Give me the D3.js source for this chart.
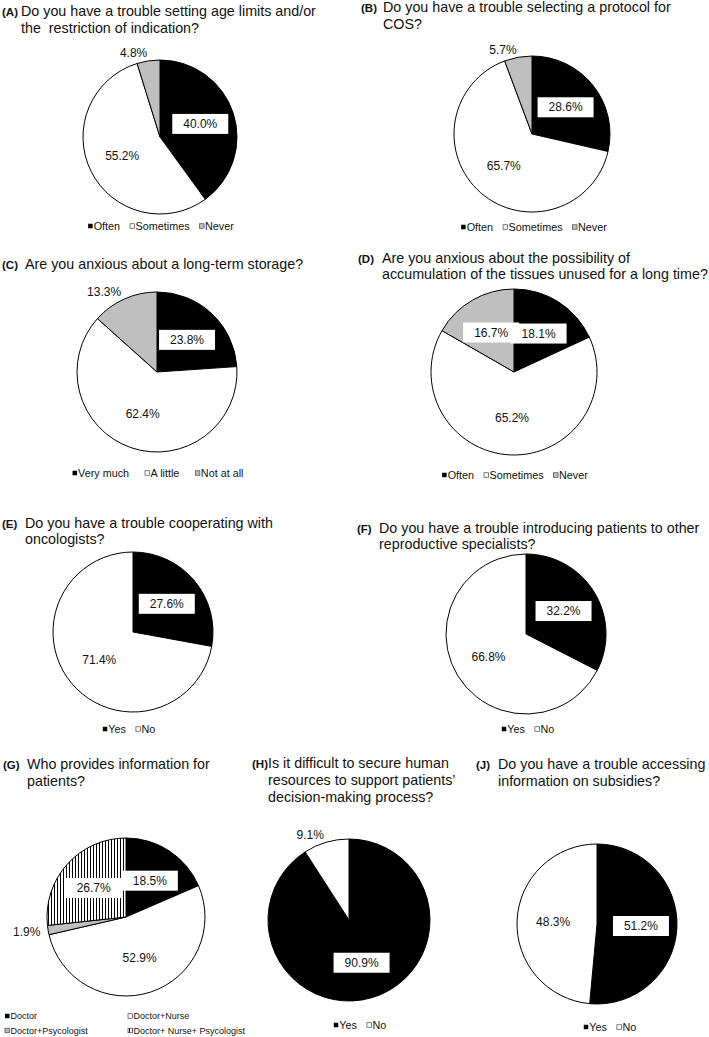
<!DOCTYPE html>
<html>
<head>
<meta charset="utf-8">
<script src="https://cdn.jsdelivr.net/npm/d3@7"></script>
<style>
  body { margin: 0; background: #fff; }
  text { font-family: Arial, "Liberation Sans", sans-serif; fill: #111; }
</style>
</head>
<body>
<div id="chart"></div>
<script>
// Data
var panelIds = ["A", "B", "C", "D", "E", "F", "G", "H", "J"];

var titles = [
  ["Do you have a trouble setting age limits and/or", "the  restriction of indication?"],
  ["Do you have a trouble selecting a protocol for", "COS?"],
  ["Are you anxious about a long-term storage?"],
  ["Are you anxious about the possibility of", "accumulation of the tissues unused for a long time?"],
  ["Do you have a trouble cooperating with", "oncologists?"],
  ["Do you have a trouble introducing patients to other", "reproductive specialists?"],
  ["Who provides information for", "patients?"],
  ["Is it difficult to secure human", "resources to support patients\u2019", "decision-making process?"],
  ["Do you have a trouble accessing", "information on subsidies?"]
];

var freqCats = ["Often", "Sometimes", "Never"];
var anxCats = ["Very much", "A little", "Not at all"];
var ynCats = ["Yes", "No"];
var whoCats = ["Doctor", "Doctor+Nurse", "Doctor+Psycologist", "Doctor+ Nurse+ Psycologist"];

var categories = [freqCats, freqCats, anxCats, freqCats, ynCats, ynCats, whoCats, ynCats, ynCats];

var values = [
  [40.0, 55.2, 4.8],
  [28.6, 65.7, 5.7],
  [23.8, 62.4, 13.3],
  [18.1, 65.2, 16.7],
  [27.6, 71.4],
  [32.2, 66.8],
  [18.5, 52.9, 1.9, 26.7],
  [90.9, 9.1],
  [51.2, 48.3]
];

// Layout of each panel (position of pie, title, legend)
var layout = [
  {cx: 160, cy: 137, r: 77, lx: 2,   tx: 21,  ty: 16,  lh: 16.5, legX: 161, legY: 226, out: [2]},
  {cx: 532, cy: 134, r: 78, lx: 361, tx: 383, ty: 12,  lh: 17,   legX: 534, legY: 227, out: [2]},
  {cx: 157, cy: 372, r: 80, lx: 2,   tx: 25,  ty: 269, lh: 16.5, legX: 158, legY: 473, out: [2], gap: 16},
  {cx: 514, cy: 372, r: 83, lx: 358, tx: 382, ty: 263, lh: 16,   legX: 515, legY: 475, out: []},
  {cx: 133, cy: 632, r: 80, lx: 2,   tx: 25,  ty: 528, lh: 15.5, legX: 129, legY: 729, out: []},
  {cx: 526, cy: 634, r: 80, lx: 357, tx: 379, ty: 533, lh: 15.5, legX: 528, legY: 729, out: []},
  {cx: 126, cy: 917, r: 79, lx: 3,   tx: 27,  ty: 769, lh: 17,   grid: true, out: [2]},
  {cx: 349, cy: 920, r: 81, lx: 252, tx: 268, ty: 768, lh: 17,   legX: 360, legY: 1025, out: [1]},
  {cx: 597, cy: 924, r: 80, lx: 476, tx: 498, ty: 769, lh: 17,   legX: 610, legY: 1027, out: []}
];

var fills = ["#000000", "#ffffff", "#bfbfbf", "url(#vhatch)"];

var svg = d3.select("#chart")
  .append("svg")
  .attr("width", 709)
  .attr("height", 1037);

// vertical hatch pattern
var pat = svg.append("defs").append("pattern")
  .attr("id", "vhatch")
  .attr("patternUnits", "userSpaceOnUse")
  .attr("width", 3)
  .attr("height", 3);
pat.append("rect").attr("width", 3).attr("height", 3).attr("fill", "#fff");
pat.append("rect").attr("width", 1).attr("height", 3).attr("fill", "#000");

var pie = d3.pie().sort(null).value(d => d);
var fmt = d3.format(".1f");

function marker(g, x, y, j, size) {
  g.append("rect")
    .attr("x", x)
    .attr("y", y - size / 2)
    .attr("width", size)
    .attr("height", size)
    .attr("fill", fills[j])
    .attr("stroke", j === 0 ? "none" : "#444")
    .attr("stroke-width", 0.7);
}

panelIds.forEach(function(id, i) {
  var L = layout[i];
  var g = svg.append("g");

  // Title
  g.append("text")
    .attr("x", L.lx)
    .attr("y", L.ty)
    .attr("font-size", "11.5px")
    .attr("font-weight", "bold")
    .text("(" + id + ")");

  titles[i].forEach(function(line, k) {
    g.append("text")
      .attr("x", L.tx)
      .attr("y", L.ty + k * L.lh)
      .attr("font-size", "14.3px")
      .style("white-space", "pre")
      .text(line);
  });

  // Pie
  var arcs = pie(values[i]);
  var arc = d3.arc().innerRadius(0).outerRadius(L.r);
  var inArc = d3.arc().innerRadius(0).outerRadius(L.r * 1.1);
  var outArc = d3.arc().innerRadius(L.r * 1.1).outerRadius(L.r * 1.1);

  var pg = g.append("g")
    .attr("transform", `translate(${L.cx}, ${L.cy})`);

  pg.selectAll("path")
    .data(arcs)
    .enter()
    .append("path")
    .attr("d", arc)
    .attr("fill", (d, j) => fills[j])
    .attr("stroke", "#000")
    .attr("stroke-width", 1);

  // Data labels
  arcs.forEach(function(d, j) {
    var outside = L.out.indexOf(j) >= 0;
    var p = outside ? outArc.centroid(d) : inArc.centroid(d);
    var txt = fmt(d.data) + "%";
    if (!outside && j !== 1) {
      pg.append("rect")
        .attr("x", p[0] - 28)
        .attr("y", p[1] - 10)
        .attr("width", 56)
        .attr("height", 20)
        .attr("fill", "#fff");
    }
    pg.append("text")
      .attr("x", p[0])
      .attr("y", p[1])
      .attr("dy", "0.35em")
      .attr("font-size", "12px")
      .attr("text-anchor", outside ? (p[0] < 0 ? "end" : "start") : "middle")
      .text(txt);
  });

  // Legend
  var cats = categories[i];
  if (L.grid) {
    var colX = [5, 128], rowY = [1016, 1030.5];
    cats.forEach(function(c, j) {
      var x = colX[j % 2], y = rowY[Math.floor(j / 2)];
      marker(g, x, y, j, 4.5);
      g.append("text")
        .attr("x", x + 5.5)
        .attr("y", y)
        .attr("dy", "0.35em")
        .attr("font-size", "9px")
        .text(c);
    });
  } else {
    var lg = g.append("g");
    var x = 0, gap = L.gap || 10;
    cats.forEach(function(c, j) {
      marker(lg, x, 0, j, 4.5);
      var t = lg.append("text")
        .attr("x", x + 5.5)
        .attr("y", 0)
        .attr("dy", "0.35em")
        .attr("font-size", "10.8px")
        .text(c);
      x += 5.5 + t.node().getComputedTextLength() + gap;
    });
    var w = x - gap;
    lg.attr("transform", `translate(${L.legX - w / 2}, ${L.legY})`);
  }
});
</script>
</body>
</html>
